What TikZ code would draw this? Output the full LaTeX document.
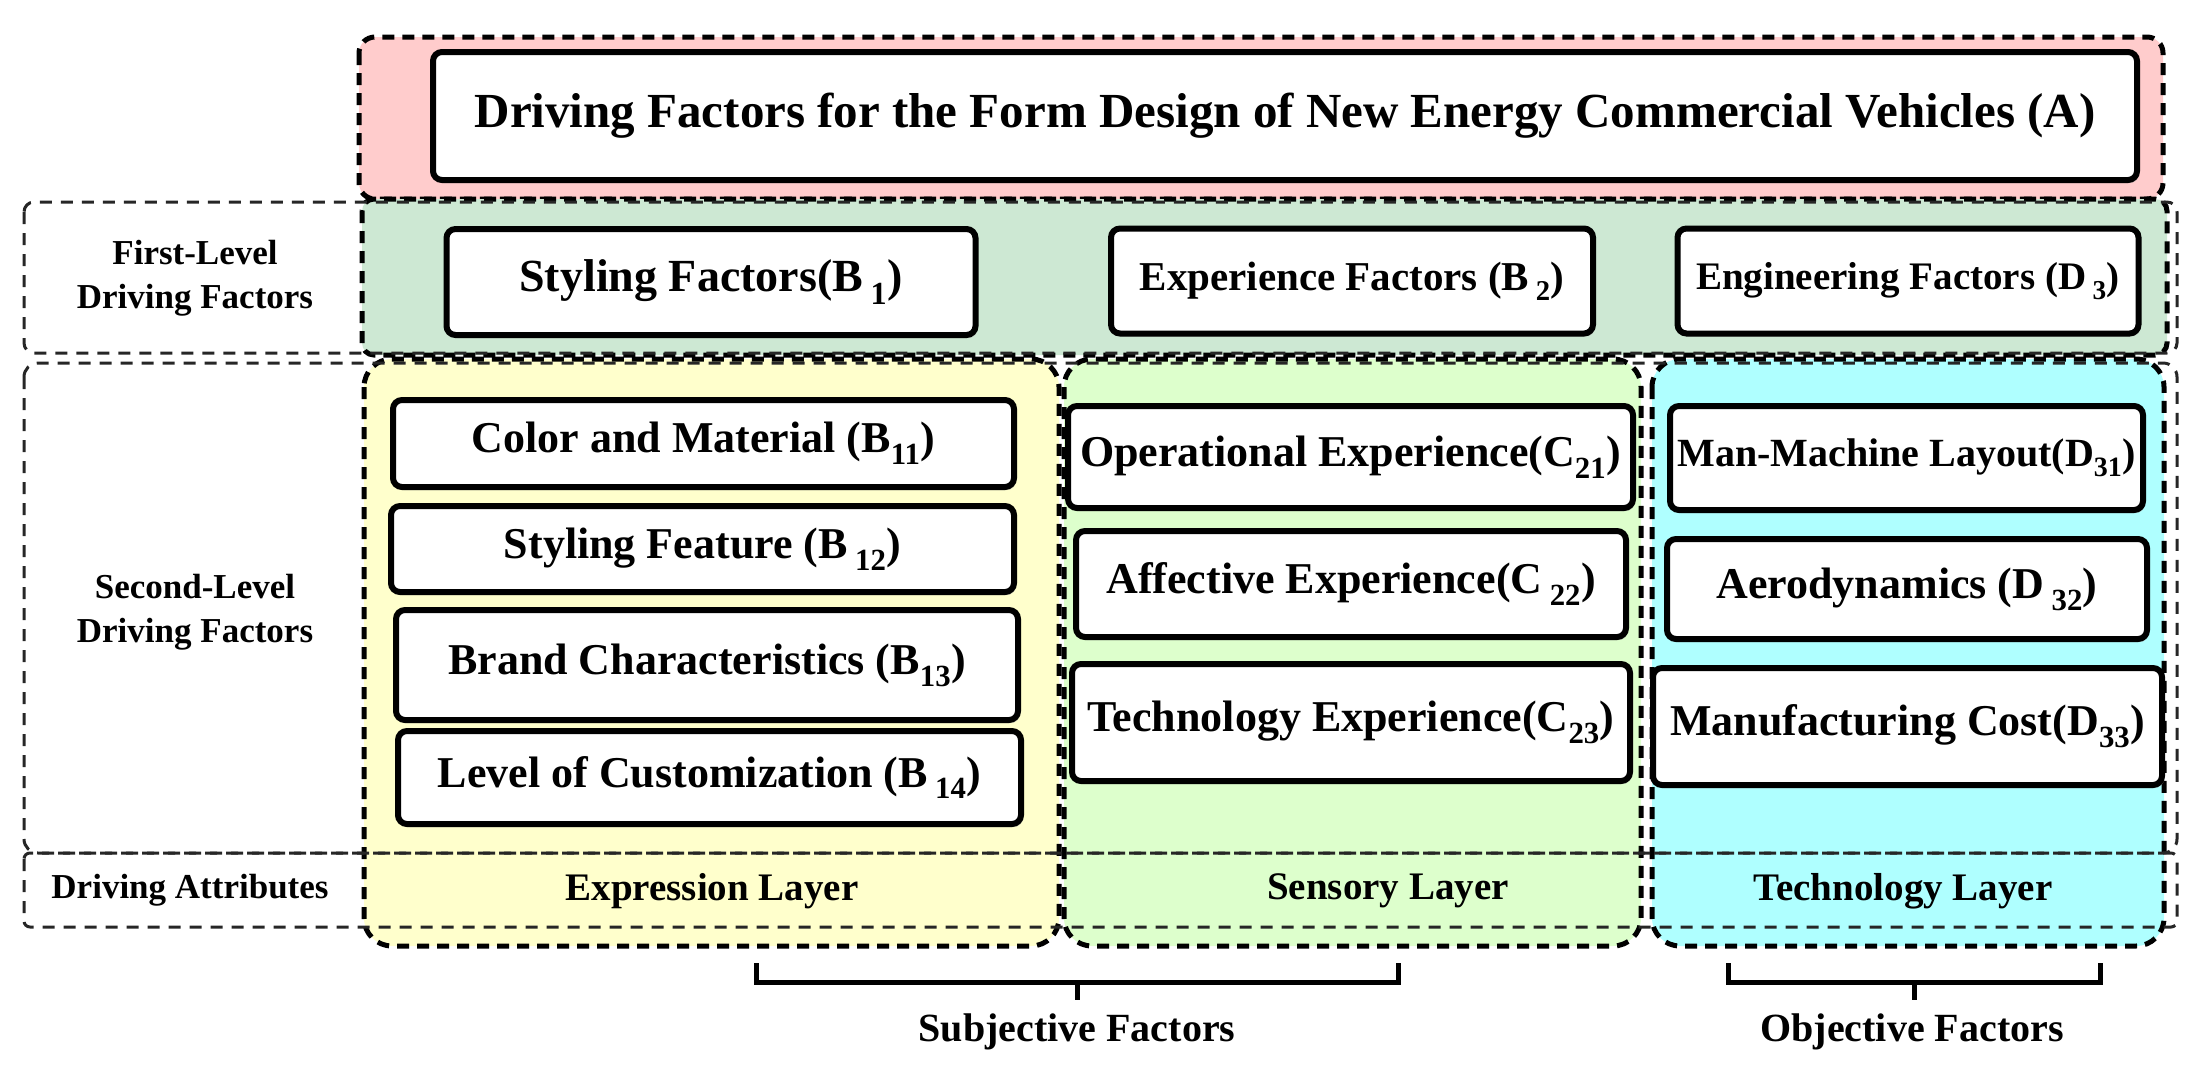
\documentclass[tikz,border=0pt]{standalone}
\usepackage{fontspec}
\setmainfont{Liberation Serif}
\usetikzlibrary{shadows}
\definecolor{pinkbg}{HTML}{FFCCCC}
\definecolor{greenbg}{HTML}{CDE8D3}
\definecolor{yellowbg}{HTML}{FFFFCC}
\definecolor{lgreenbg}{HTML}{DDFFCC}
\definecolor{cyanbg}{HTML}{AFFFFF}
\newcommand\fsz[1]{\fontsize{#1}{#1}\selectfont\bfseries}
\newcommand\twolinefont{\fontsize{35}{44}\selectfont\bfseries}
\begin{document}
\begin{tikzpicture}[x=1pt,y=-1pt,
  inbox/.style={draw=black, line width=6pt, rounded corners=9pt, fill=white, inner sep=0pt,
    drop shadow={shadow xshift=2pt, shadow yshift=-3pt, fill=black!30}},
  thickdash/.style={line width=5pt, dash pattern=on 12pt off 8pt},
  thindash/.style={line width=3pt, dash pattern=on 12pt off 9pt, draw=black!85},
  lbl/.style={inner sep=0pt, align=center},
  brack/.style={line width=5pt, draw=black}]
\useasboundingbox (0,0) rectangle (2208,1080);

% containers
\draw[thickdash, fill=pinkbg, rounded corners=16pt] (359,37) rectangle (2163,199);
\draw[thickdash, fill=greenbg, rounded corners=12pt] (362,199) rectangle (2167,355);
\draw[thickdash, fill=yellowbg, rounded corners=28pt] (364,359) rectangle (1059,946);
\draw[thickdash, fill=lgreenbg, rounded corners=28pt] (1064,359) rectangle (1641,946);
\draw[thickdash, fill=cyanbg, rounded corners=28pt] (1652,359) rectangle (2164,946);

% rows
\draw[thindash, rounded corners=10pt] (24,202) rectangle (2177,353);
\draw[thindash, rounded corners=14pt] (24,363) rectangle (2177,853);
\draw[thindash, rounded corners=6pt] (24,853) rectangle (2177,927);

% title
\node[inbox, minimum width=1704pt, minimum height=128pt, font=\fsz{49}] (A) at (1285,116)
  {Driving Factors for the Form Design of New Energy Commercial Vehicles (A)};

% first level
\node[inbox, minimum width=529pt, minimum height=106pt, font=\fsz{46}] (B1) at (711,282)
  {Styling Factors(B\,\textsubscript{1})};
\node[inbox, minimum width=482pt, minimum height=105pt, font=\fsz{41}] (B2) at (1352,281)
  {Experience Factors (B\,\textsubscript{2})};
\node[inbox, minimum width=461pt, minimum height=105pt, font=\fsz{39}] (D3) at (1908,281)
  {Engineering Factors (D\,\textsubscript{3})};

% second level - expression
\node[inbox, minimum width=621pt, minimum height=87pt, font=\fsz{44}] (B11) at (703.5,443.5)
  {Color and Material (B\textsubscript{11})};
\node[inbox, minimum width=623pt, minimum height=86pt, font=\fsz{44}] (B12) at (702.5,549)
  {Styling Feature (B\,\textsubscript{12})};
\node[inbox, minimum width=622pt, minimum height=110pt, font=\fsz{44}] (B13) at (707,665)
  {Brand Characteristics (B\textsubscript{13})};
\node[inbox, minimum width=623pt, minimum height=93pt, font=\fsz{44}] (B14) at (709.5,777.5)
  {Level of Customization (B\,\textsubscript{14})};

% sensory
\node[inbox, minimum width=565pt, minimum height=102pt, font=\fsz{44}] (C21) at (1350.5,457)
  {Operational Experience(C\textsubscript{21})};
\node[inbox, minimum width=550pt, minimum height=106pt, font=\fsz{44}] (C22) at (1351,584)
  {Affective Experience(C\,\textsubscript{22})};
\node[inbox, minimum width=558pt, minimum height=117pt, font=\fsz{44}] (C23) at (1351,722.5)
  {Technology Experience(C\textsubscript{23})};

% technology
\node[inbox, minimum width=473pt, minimum height=104pt, font=\fsz{40}] (D31) at (1906.5,458)
  {Man-Machine Layout(D\textsubscript{31})};
\node[inbox, minimum width=480pt, minimum height=100pt, font=\fsz{44}] (D32) at (1907,589)
  {Aerodynamics (D\,\textsubscript{32})};
\node[inbox, minimum width=509pt, minimum height=117pt, font=\fsz{44}] (D33) at (1907.5,726.5)
  {Manufacturing Cost(D\textsubscript{33})};

% left labels
\node[lbl, font=\twolinefont] (L1) at (195,278) {First-Level\\Driving Factors};
\node[lbl, font=\twolinefont] (L2) at (195,612) {Second-Level\\Driving Factors};
\node[lbl, font=\fsz{35}] (L3) at (190,890) {Driving Attributes};

% layer labels
\node[lbl, font=\fsz{39}] (EL) at (712,891) {Expression Layer};
\node[lbl, font=\fsz{39}] (SL) at (1388,891) {Sensory Layer};
\node[lbl, font=\fsz{39}] (TL) at (1903,891) {Technology Layer};

% brackets
\coordinate (s1) at (756,963);
\coordinate (s2) at (1398,963);
\coordinate (sm) at (1077,982);
\coordinate (sb) at (1077,1000);
\coordinate (o1) at (1728,963);
\coordinate (o2) at (2100,963);
\coordinate (om) at (1914,982);
\coordinate (ob) at (1914,1000);
\node[lbl, font=\fsz{40}, anchor=base] (SF) at (1077,1041) {Subjective Factors};
\node[lbl, font=\fsz{40}, anchor=base] (OF) at (1912,1041) {Objective Factors};
\draw[brack] (s1) -- (s1 |- sm) -- (s2 |- sm) -- (s2);
\draw[brack] (sm) -- (sb);
\draw[brack] (o1) -- (o1 |- om) -- (o2 |- om) -- (o2);
\draw[brack] (om) -- (ob);
\end{tikzpicture}
\end{document}
